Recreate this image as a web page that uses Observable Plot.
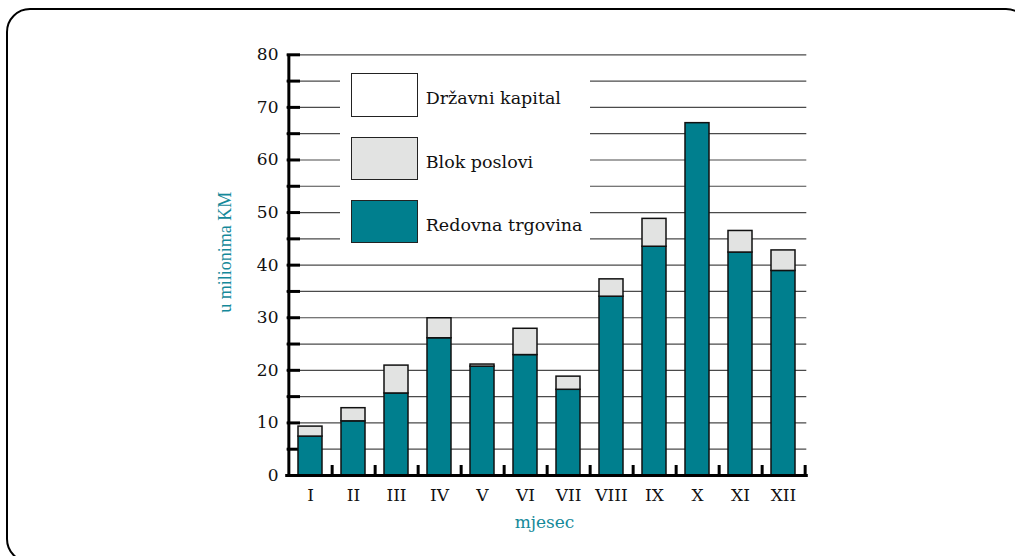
<!DOCTYPE html>
<html>
<head>
<meta charset="utf-8">
<script src="https://cdn.jsdelivr.net/npm/d3@7"></script>
<script src="https://cdn.jsdelivr.net/npm/@observablehq/plot@0.6"></script>
<style>
  html, body { margin: 0; padding: 0; background: #fff; overflow: hidden; }
  #wrap { position: relative; width: 1015px; height: 556px; overflow: hidden; }
  #frame { position: absolute; left: 6.3px; top: 8.3px; width: 1023.7px; height: 554.7px;
           box-sizing: border-box; border: 2px solid #000; border-radius: 24px; pointer-events: none; }
  #chart { position: absolute; left: 0; top: 0; }
  #legend { position: absolute; left: 340px; top: 60px; width: 250px; height: 195px; background: #fff;
            font-family: "DejaVu Serif", serif; font-size: 17.5px; color: #111; }
  .sw { position: absolute; left: 11px; width: 67px; height: 43.5px; box-sizing: border-box; border: 1.5px solid #222; }
  .lb { position: absolute; left: 85.7px; height: 43.5px; line-height: 43.5px; padding-top: 4px; white-space: nowrap; }
</style>
</head>
<body>
<div id="wrap">
  <div id="chart"></div>
  <div id="legend"></div>
  <div id="frame"></div>
</div>
<script>
const months = ["I","II","III","IV","V","VI","VII","VIII","IX","X","XI","XII"];
const redovnaTrgovina = [7.4, 10.3, 15.6, 26.1, 20.7, 22.9, 16.3, 34.0, 43.5, 67.0, 42.4, 38.9];
const blokPoslovi     = [1.9, 2.5, 5.3, 3.8, 0.4, 5.0, 2.5, 3.3, 5.3, 0.0, 4.1, 3.9];
const drzavniKapital  = [0, 0, 0, 0, 0, 0, 0, 0, 0, 0, 0, 0];
const seriesNames = ["Redovna trgovina", "Blok poslovi", "Državni kapital"];
const seriesColors = ["#007f8e", "#e2e3e2", "#ffffff"];
const yTicks = [0, 10, 20, 30, 40, 50, 60, 70, 80];
const gridValues = d3.range(0, 81, 5);
const yTitle = "u milionima KM";
const xTitle = "mjesec";

const seriesValues = [redovnaTrgovina, blokPoslovi, drzavniKapital];
const data = [];
months.forEach((m, i) => {
  seriesNames.forEach((s, j) => data.push({month: m, series: s, value: seriesValues[j][i]}));
});

const W = 1015, H = 556;
const mL = 286.7, mR = 208.7, mT = 54.3, mB = 81;
const step = (W - mL - mR) / months.length;
const frameH = H - mT - mB;
const frameW = W - mL - mR;
const tickLen = 10 * 80 / frameH; // 10px upward tick, in y units

const chart = Plot.plot({
  width: W, height: H,
  marginLeft: mL, marginRight: mR, marginTop: mT, marginBottom: mB,
  style: {fontFamily: "DejaVu Serif, serif", fontSize: "17px", color: "#111", background: "transparent"},
  x: {domain: months, paddingInner: 0.44, paddingOuter: 0.22, label: null, axis: null},
  y: {domain: [0, 80], label: null, axis: null},
  color: {domain: seriesNames, range: seriesColors},
  marks: [
    Plot.ruleY(gridValues, {stroke: "#4a4a4a", strokeWidth: 1.2}),
    Plot.ruleY(gridValues, {stroke: "#000", strokeWidth: 3, insetRight: frameW - 13.3}),
    Plot.barY(data.filter(d => d.value > 0), {x: "month", y: "value", fill: "series", z: "series",
      stroke: "#111", strokeWidth: 1.5}),
    Plot.ruleX(months, {x: d => d, dx: step / 2, y1: 0, y2: tickLen, stroke: "#000", strokeWidth: 3}),
    Plot.ruleX([months[0]], {x: d => d, dx: -step / 2, y1: 0, y2: 80, stroke: "#000", strokeWidth: 3, insetBottom: -1.5}),
    Plot.ruleY([0], {stroke: "#000", strokeWidth: 3, insetLeft: -1.5, insetRight: -1.5}),
    Plot.axisY({ticks: yTicks, tickSize: 0, tickPadding: 8.7, label: null, fontSize: 17}),
    Plot.axisX({tickSize: 0, tickPadding: 13, label: null, fontSize: 17}),
    Plot.text([yTitle], {text: d => d, frameAnchor: "left", textAnchor: "middle", lineAnchor: "middle",
      rotate: -90, dx: -61.7, dy: -13,
      fill: "#15899a", fontSize: 18, fontFamily: "Liberation Serif, serif"}),
    Plot.text([xTitle], {text: d => d, frameAnchor: "bottom", textAnchor: "middle", lineAnchor: "middle",
      dx: -2.5, dy: 46.6, fill: "#15899a", fontSize: 17})
  ]
});
document.getElementById("chart").appendChild(chart);

// Legend (top to bottom: Državni kapital, Blok poslovi, Redovna trgovina)
const legend = document.getElementById("legend");
const legendOrder = [2, 1, 0];
legendOrder.forEach((j, k) => {
  const top = 13.3 + k * 63.2;
  const sw = document.createElement("div");
  sw.className = "sw";
  sw.style.top = top + "px";
  sw.style.background = seriesColors[j];
  legend.appendChild(sw);
  const lb = document.createElement("div");
  lb.className = "lb";
  lb.style.top = top + "px";
  lb.textContent = seriesNames[j];
  legend.appendChild(lb);
});
</script>
</body>
</html>
